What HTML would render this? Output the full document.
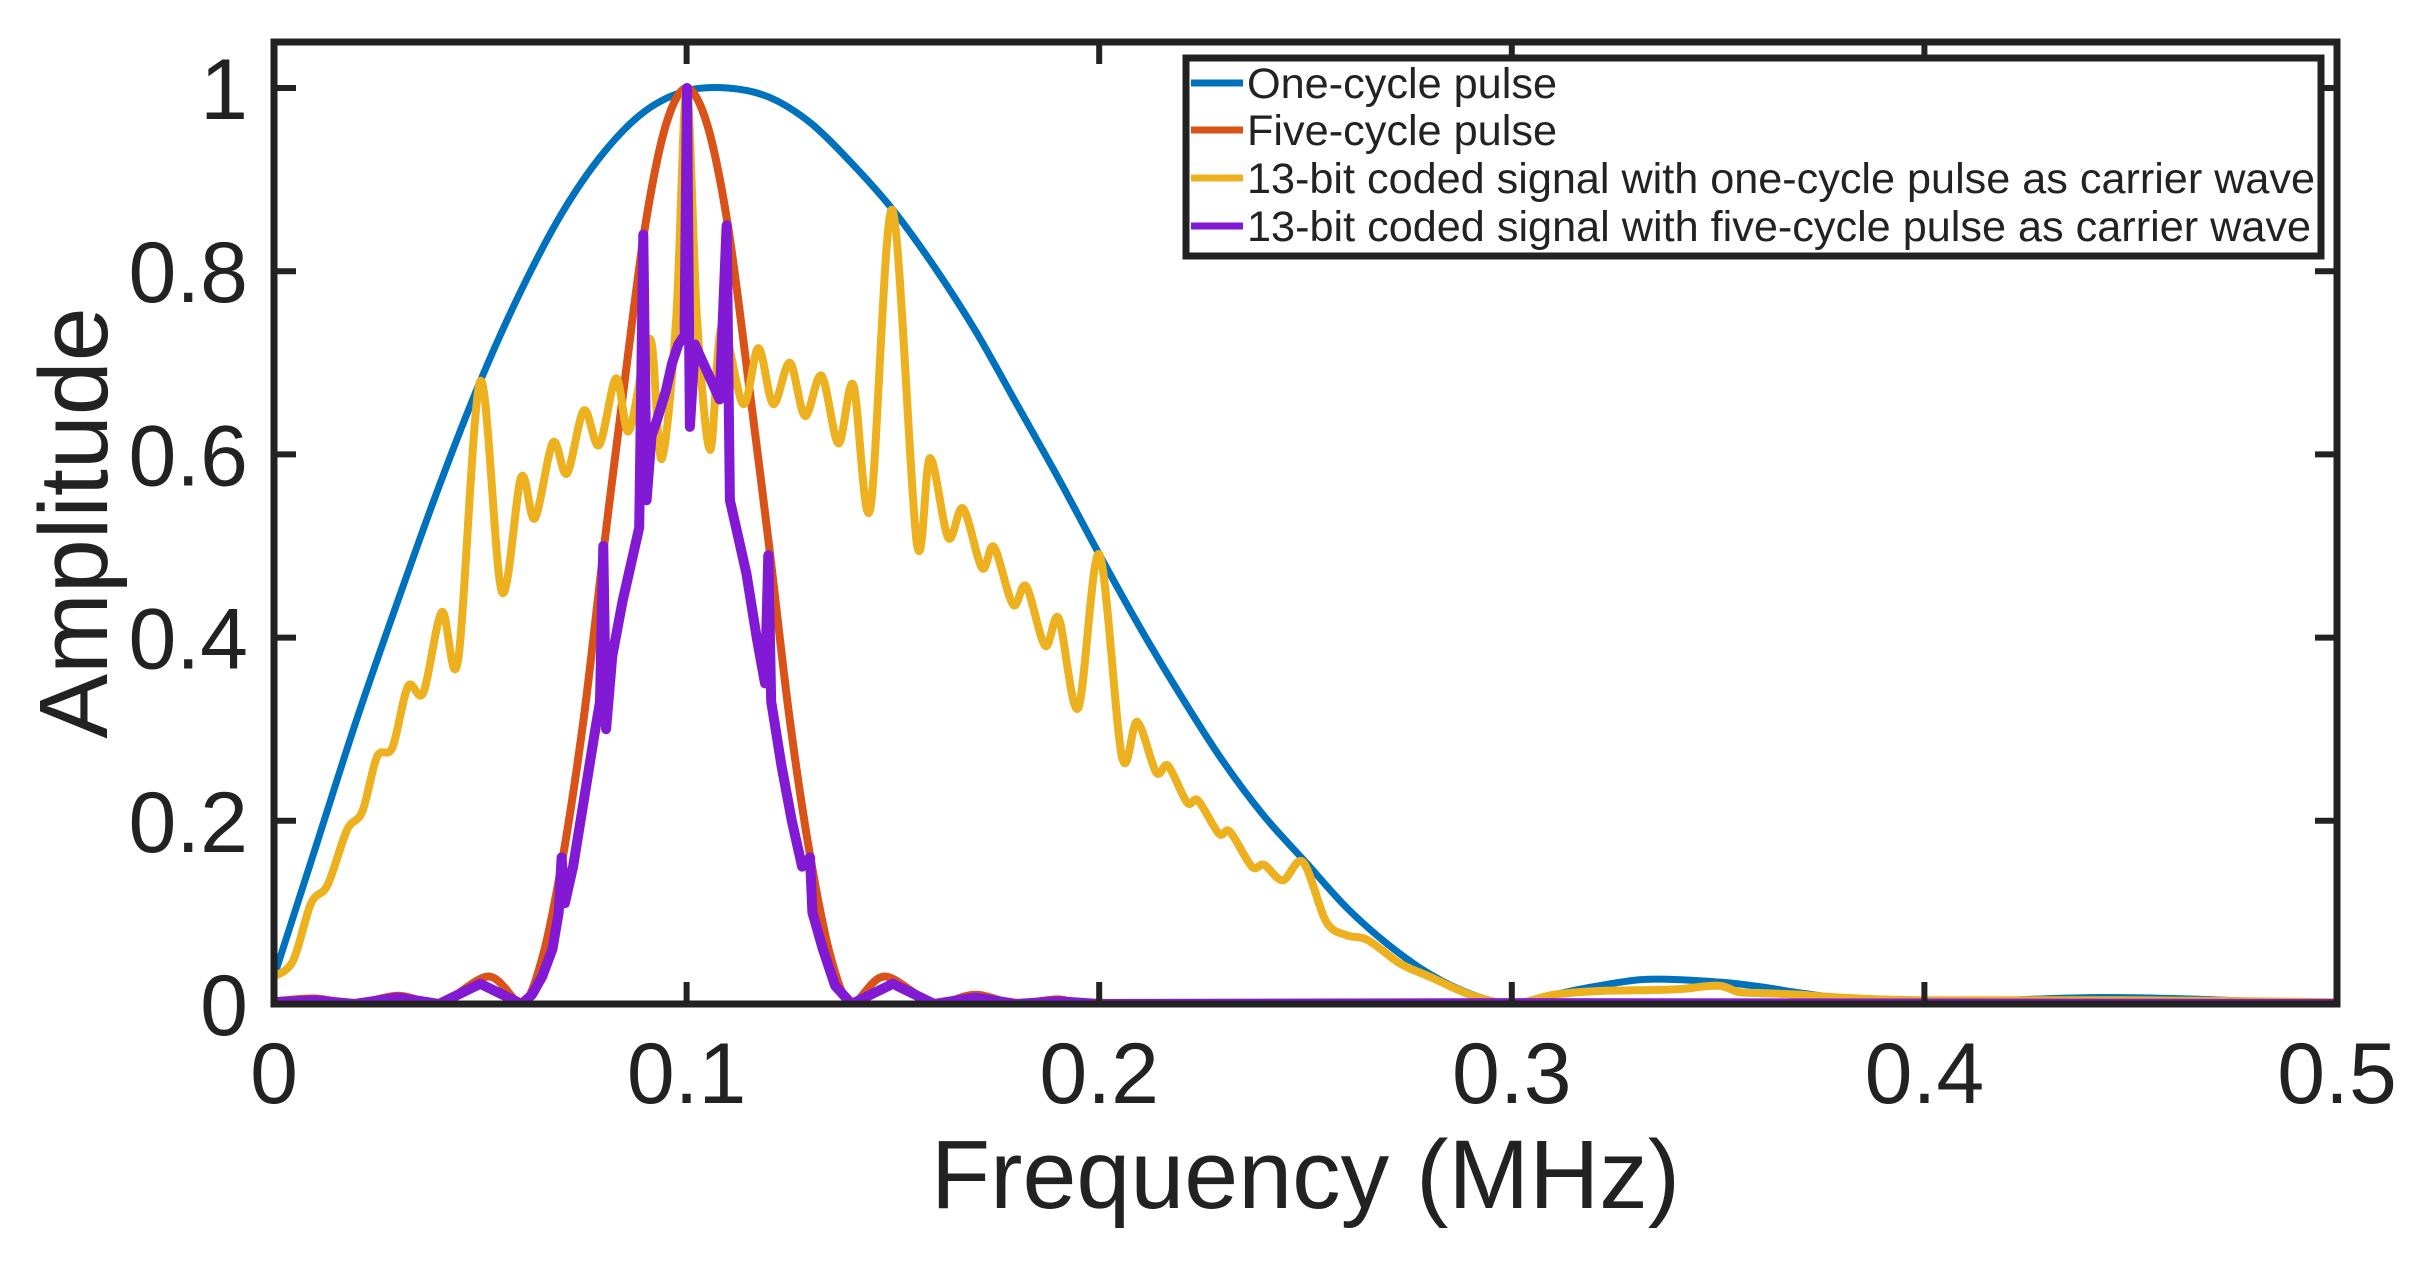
<!DOCTYPE html>
<html><head><meta charset="utf-8"><style>
html,body{margin:0;padding:0;background:#fff;}
svg{display:block;font-family:"Liberation Sans",Arial,sans-serif;}
</style></head><body>
<svg id="chart" width="2419" height="1265" viewBox="0 0 2419 1265" xmlns="http://www.w3.org/2000/svg">
<rect x="0" y="0" width="2419" height="1265" fill="#fff"/>
<g id="series"></g>
<g id="axes"></g>
<g id="legend"></g>
</svg>
<script>
// ---- data ----
const xTicks = [0, 0.1, 0.2, 0.3, 0.4, 0.5];
const xTickLabels = ["0", "0.1", "0.2", "0.3", "0.4", "0.5"];
const yTicks = [0, 0.2, 0.4, 0.6, 0.8, 1];
const yTickLabels = ["0", "0.2", "0.4", "0.6", "0.8", "1"];
const seriesNames = ["One-cycle pulse", "Five-cycle pulse", "13-bit coded signal with one-cycle pulse as carrier wave", "13-bit coded signal with five-cycle pulse as carrier wave"];

const oneF = [0,0.01,0.02,0.03,0.04,0.05,0.06,0.07,0.08,0.09,0.10,0.11,0.12,0.13,0.14,0.15,0.16,0.17,0.18,0.19,0.20,0.21,0.22,0.23,0.24,0.25,0.26,0.27,0.28,0.29,0.30,0.31,0.32,0.333,0.35,0.36,0.37,0.38,0.39,0.40,0.42,0.44,0.46,0.48,0.50];
const oneA = [0.03,0.17,0.31,0.44,0.565,0.68,0.78,0.865,0.93,0.975,0.997,1.0,0.99,0.962,0.918,0.867,0.805,0.735,0.655,0.575,0.491,0.41,0.335,0.265,0.205,0.155,0.105,0.065,0.033,0.011,0,0.01,0.019,0.027,0.024,0.019,0.012,0.006,0.002,0,0.004,0.007,0.006,0.003,0];

const fiveF = [0,0.01,0.0195,0.03,0.04,0.052,0.06,0.065,0.07,0.075,0.08,0.085,0.09,0.095,0.10,0.105,0.11,0.115,0.12,0.125,0.13,0.135,0.14,0.148,0.16,0.17,0.18,0.19,0.20,0.25,0.5];
const fiveA = [0.003,0.006,0,0.009,0,0.03,0,0.05,0.16,0.31,0.50,0.68,0.85,0.96,1.0,0.96,0.85,0.68,0.50,0.31,0.16,0.05,0,0.03,0,0.01,0,0.005,0,0.001,0];

const codedOneF = [0,0.0046,0.009,0.013,0.0177,0.0214,0.025,0.0287,0.0325,0.0362,0.0407,0.0446,0.050,0.0552,0.0599,0.0632,0.0676,0.071,0.0751,0.0788,0.0829,0.0859,0.0895,0.0916,0.094,0.0975,0.10,0.1025,0.1057,0.1085,0.1137,0.1174,0.121,0.125,0.1287,0.1327,0.1368,0.1404,0.1445,0.1498,0.1558,0.159,0.1634,0.167,0.1716,0.1745,0.1791,0.1823,0.1869,0.1902,0.1949,0.20,0.2055,0.2092,0.2138,0.2167,0.2213,0.224,0.229,0.2317,0.237,0.240,0.2445,0.2494,0.255,0.26,0.265,0.273,0.28,0.29,0.30,0.31,0.32,0.33,0.34,0.35,0.355,0.36,0.37,0.38,0.40,0.45,0.5];
const codedOneA = [0.03,0.047,0.11,0.13,0.19,0.21,0.27,0.28,0.347,0.34,0.428,0.375,0.68,0.45,0.575,0.53,0.613,0.579,0.648,0.61,0.683,0.625,0.70,0.72,0.595,0.75,1.0,0.75,0.605,0.74,0.655,0.716,0.655,0.70,0.642,0.686,0.612,0.676,0.54,0.867,0.503,0.596,0.509,0.541,0.476,0.499,0.436,0.456,0.391,0.421,0.323,0.491,0.27,0.308,0.253,0.26,0.22,0.222,0.186,0.188,0.15,0.152,0.135,0.155,0.09,0.075,0.07,0.044,0.03,0.01,0,0.01,0.014,0.015,0.016,0.02,0.013,0.012,0.01,0.007,0.004,0.004,0.002];

const codedFiveF = [0,0.01,0.0195,0.03,0.04,0.05,0.06,0.0625,0.065,0.0675,0.069,0.0697,0.0705,0.0725,0.075,0.0775,0.079,0.0798,0.0805,0.082,0.0845,0.087,0.0885,0.0895,0.0903,0.0915,0.093,0.095,0.0965,0.098,0.0995,0.1001,0.1008,0.102,0.104,0.106,0.108,0.1097,0.1105,0.112,0.1145,0.117,0.119,0.1198,0.1205,0.123,0.1255,0.128,0.1299,0.1305,0.133,0.136,0.14,0.15,0.16,0.17,0.18,0.19,0.20,0.3,0.5];
const codedFiveA = [0.002,0.004,0,0.007,0,0.022,0,0.01,0.03,0.06,0.10,0.16,0.11,0.15,0.22,0.29,0.33,0.50,0.30,0.38,0.44,0.49,0.52,0.84,0.55,0.62,0.64,0.67,0.70,0.72,0.73,1.0,0.63,0.72,0.70,0.68,0.66,0.85,0.55,0.52,0.47,0.40,0.35,0.49,0.33,0.26,0.20,0.15,0.16,0.10,0.06,0.02,0,0.022,0,0.007,0,0.003,0,0.001,0];

// ---- layout ----
const PL = 274, PR = 2337, PT = 42, PB = 1004;
const XMIN = 0, XMAX = 0.5, YMIN = 0, YMAX = (PB - PT) / 916;
function xs(v){ return PL + (v - XMIN) / (XMAX - XMIN) * (PR - PL); }
function ys(v){ return PB - (v - YMIN) / (YMAX - YMIN) * (PB - PT); }
const NS = "http://www.w3.org/2000/svg";
function mk(tag, parent){ const e = document.createElementNS(NS, tag); parent.appendChild(e); return e; }

function smoothPath(F, A){
  const p = F.map((f,i)=>[xs(f), ys(A[i])]);
  let d = "M" + p[0][0].toFixed(1) + "," + p[0][1].toFixed(1);
  for (let i = 0; i < p.length - 1; i++){
    const p0 = p[Math.max(0,i-1)], p1 = p[i], p2 = p[i+1], p3 = p[Math.min(p.length-1,i+2)];
    const t = 0.16;
    let c1y = p1[1] + (p2[1]-p0[1])*t, c2y = p2[1] - (p3[1]-p1[1])*t;
    c1y = Math.min(c1y, PB); c2y = Math.min(c2y, PB);
    d += " C" + (p1[0]+(p2[0]-p0[0])*t).toFixed(1) + "," + c1y.toFixed(1) + " " + (p2[0]-(p3[0]-p1[0])*t).toFixed(1) + "," + c2y.toFixed(1) + " " + p2[0].toFixed(1) + "," + p2[1].toFixed(1);
  }
  return d;
}
function linePath(F, A){
  return F.map((f,i)=>(i?"L":"M") + xs(f).toFixed(1) + "," + ys(A[i]).toFixed(1)).join(" ");
}

const sg = document.getElementById("series");
const clip = mk("clipPath", sg); clip.setAttribute("id","plotclip");
const cr = mk("rect", clip); cr.setAttribute("x",PL); cr.setAttribute("y",PT-10); cr.setAttribute("width",PR-PL); cr.setAttribute("height",PB-PT+10);

const colors = ["#0072BD", "#D95319", "#EDB120", "#8219D4"];
const widths = [7, 8, 8, 10];
const defs = [[oneF, oneA, true], [fiveF, fiveA, true], [codedOneF, codedOneA, true], [codedFiveF, codedFiveA, false]];
const seriesKeys = ["one-cycle-pulse-line", "five-cycle-pulse-line", "coded-one-cycle-line", "coded-five-cycle-line"];
defs.forEach((s, i) => {
  const path = mk("path", sg);
  path.setAttribute("d", s[2] ? smoothPath(s[0], s[1]) : linePath(s[0], s[1]));
  path.setAttribute("fill", "none");
  path.setAttribute("stroke", colors[i]);
  path.setAttribute("stroke-width", widths[i]);
  path.setAttribute("stroke-linejoin", "round");
  path.setAttribute("clip-path", "url(#plotclip)");
  
  
});

// ---- axes ----
const ag = document.getElementById("axes");
const box = mk("rect", ag);
box.setAttribute("x", PL); box.setAttribute("y", PT); box.setAttribute("width", PR-PL); box.setAttribute("height", PB-PT);
box.setAttribute("fill", "none"); box.setAttribute("stroke", "#222"); box.setAttribute("stroke-width", 7);


const TL = 22;
xTicks.forEach((v, i) => {
  const x = xs(v);
  [[PB, PB-TL],[PT, PT+TL]].forEach(([a,b]) => {
    const t = mk("line", ag);
    t.setAttribute("x1", x); t.setAttribute("x2", x); t.setAttribute("y1", a); t.setAttribute("y2", b);
    t.setAttribute("stroke", "#222"); t.setAttribute("stroke-width", 6);
    
    
  });
  const lb = mk("text", ag);
  lb.setAttribute("x", x); lb.setAttribute("y", 1103); lb.setAttribute("text-anchor", "middle");
  lb.setAttribute("font-size", 86); lb.setAttribute("fill", "#222");
  lb.textContent = xTickLabels[i];
  
  
});
yTicks.forEach((v, i) => {
  const y = ys(v);
  [[PL, PL+TL],[PR, PR-TL]].forEach(([a,b]) => {
    const t = mk("line", ag);
    t.setAttribute("x1", a); t.setAttribute("x2", b); t.setAttribute("y1", y); t.setAttribute("y2", y);
    t.setAttribute("stroke", "#222"); t.setAttribute("stroke-width", 6);
    
    
  });
  const lb = mk("text", ag);
  lb.setAttribute("x", 248); lb.setAttribute("y", y + 31); lb.setAttribute("text-anchor", "end");
  lb.setAttribute("font-size", 86); lb.setAttribute("fill", "#222");
  lb.textContent = yTickLabels[i];
  
  
});
const xt = mk("text", ag);
xt.setAttribute("x", (PL+PR)/2); xt.setAttribute("y", 1208); xt.setAttribute("text-anchor", "middle");
xt.setAttribute("font-size", 97); xt.setAttribute("fill", "#222");
xt.textContent = "Frequency (MHz)";


const yt = mk("text", ag);
yt.setAttribute("transform", "translate(107," + ((PT+PB)/2) + ") rotate(-90)");
yt.setAttribute("text-anchor", "middle");
yt.setAttribute("font-size", 97); yt.setAttribute("fill", "#222");
yt.textContent = "Amplitude";



// ---- legend ----
const lg = document.getElementById("legend");
const lbox = mk("rect", lg);
lbox.setAttribute("x", 1186); lbox.setAttribute("y", 58); lbox.setAttribute("width", 1135); lbox.setAttribute("height", 198);
lbox.setAttribute("fill", "#fff"); lbox.setAttribute("stroke", "#222"); lbox.setAttribute("stroke-width", 7);


const rowY = [83, 130, 178, 226];
const textLens = [310, 310, 1068, 1064];
seriesNames.forEach((name, i) => {
  const g = mk("g", lg);
  
  
  const ln = mk("line", g);
  ln.setAttribute("x1", 1191); ln.setAttribute("x2", 1243); ln.setAttribute("y1", rowY[i]); ln.setAttribute("y2", rowY[i]);
  ln.setAttribute("stroke", colors[i]); ln.setAttribute("stroke-width", 7);
  
  
  const tx = mk("text", g);
  tx.setAttribute("x", 1247); tx.setAttribute("y", rowY[i] + 15);
  tx.setAttribute("font-size", 43); tx.setAttribute("fill", "#222");
  tx.setAttribute("textLength", textLens[i]); tx.setAttribute("lengthAdjust", "spacingAndGlyphs");
  tx.textContent = name;
  
  
});
</script>
</body></html>
